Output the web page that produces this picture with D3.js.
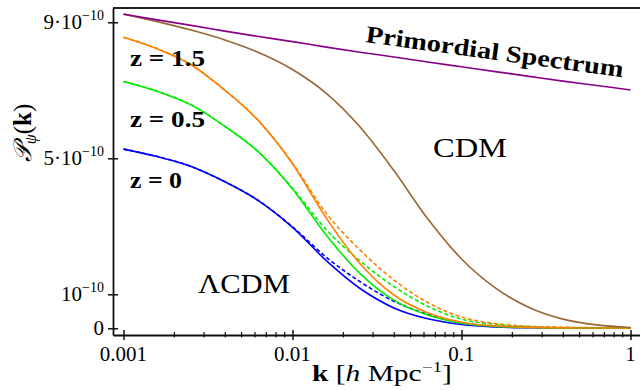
<!DOCTYPE html>
<html><head><meta charset="utf-8">
<script src="https://cdn.jsdelivr.net/npm/d3@7"></script>
<style>body{margin:0;background:#fff} svg{display:block} text{font-family:"Liberation Serif","DejaVu Serif",serif;fill:#000}</style>
</head><body>
<svg id="chart" width="640" height="390"></svg>
<script>
// k in h/Mpc (0.2-decade steps), spectra in units of 1e-10
const kValues      = [0.001, 0.001585, 0.002512, 0.003981, 0.00631, 0.01, 0.01585, 0.02512, 0.03981, 0.0631, 0.1, 0.1585, 0.2512, 0.3981, 0.631, 1];
const primordial   = [9.24, 9.07, 8.91, 8.74, 8.58, 8.43, 8.27, 8.12, 7.98, 7.83, 7.69, 7.55, 7.41, 7.27, 7.14, 7.01];
const cdm          = [9.24, 9.02, 8.77, 8.48, 8.11, 7.61, 6.91, 5.92, 4.64, 3.22, 2.04, 1.19, 0.61, 0.27, 0.10, 0.025];
const lcdmZ15      = [8.56, 8.22, 7.75, 7.00, 6.10, 4.84, 3.24, 1.90, 0.98, 0.46, 0.18, 0.068, 0.026, 0.013, 0.009, 0.005];
const lcdmZ15Dash  = [8.56, 8.22, 7.75, 7.00, 6.10, 4.86, 3.38, 2.30, 1.42, 0.76, 0.33, 0.14, 0.06, 0.03, 0.017, 0.013];
const lcdmZ05      = [7.26, 6.97, 6.57, 5.94, 5.18, 4.10, 2.74, 1.61, 0.83, 0.39, 0.15, 0.058, 0.022, 0.011, 0.007, 0.004];
const lcdmZ05Dash  = [7.26, 6.97, 6.57, 5.94, 5.18, 4.12, 2.90, 1.98, 1.23, 0.65, 0.27, 0.116, 0.051, 0.025, 0.015, 0.011];
const lcdmZ0       = [5.27, 5.05, 4.76, 4.31, 3.75, 2.97, 1.99, 1.17, 0.60, 0.28, 0.11, 0.04, 0.016, 0.008, 0.005, 0.003];
const lcdmZ0Dash   = [5.27, 5.05, 4.76, 4.31, 3.75, 2.985, 2.09, 1.37, 0.795, 0.41, 0.158, 0.063, 0.026, 0.013, 0.008, 0.005];

const xTickValues = [0.001, 0.01, 0.1, 1];
const xTickLabels = ["0.001", "0.01", "0.1", "1"];
const xMinorTicks = [2,3,4,5,6,7,8,9].flatMap(m => [m*0.001, m*0.01, m*0.1]);
const yTickValues = [0, 1, 5, 9];
const yTickBase   = ["0", "10", "5·10", "9·10"];
const yTickSup    = ["", "−10", "−10", "−10"];

const svg = d3.select("#chart");
const x = d3.scaleLog().domain([0.000867, 1.138]).range([113, 640]);
const y = d3.scaleLinear().domain([-0.197, 9.42]).range([335, 8]);

// frame top
svg.append("line").attr("x1", 113).attr("x2", 640).attr("y1", 8).attr("y2", 8)
  .attr("stroke", "#222").attr("stroke-width", 2);

// bottom axis
const gx = svg.append("g").attr("transform", "translate(0,335)")
  .call(d3.axisBottom(x).tickValues(xTickValues).tickSizeInner(0).tickSizeOuter(0).tickFormat(""));
gx.select(".domain").attr("stroke", "#111").attr("stroke-width", 1.8);
gx.selectAll(".tick line").attr("y1", -5).attr("y2", 5).attr("stroke", "#111").attr("stroke-width", 1.5);
gx.selectAll(".minor").data(xMinorTicks).enter().append("line").attr("class", "minor")
  .attr("x1", d => x(d)).attr("x2", d => x(d)).attr("y1", -3).attr("y2", 2.5)
  .attr("stroke", "#111").attr("stroke-width", 1.2);
svg.selectAll(".xlab").data(xTickValues).enter().append("text").attr("class", "xlab")
  .attr("x", d => x(d)).attr("y", 361).attr("text-anchor", "middle").attr("font-size", 21)
  .text((d, i) => xTickLabels[i]);

// left axis
const gy = svg.append("g").attr("transform", "translate(113,0)")
  .call(d3.axisLeft(y).tickValues(yTickValues).tickSizeInner(5).tickSizeOuter(0).tickFormat(""));
gy.select(".domain").attr("stroke", "#111").attr("stroke-width", 1.8);
gy.selectAll(".tick line").attr("x1", 5).attr("x2", -5).attr("stroke", "#111").attr("stroke-width", 1.5);
yTickValues.forEach((v, i) => {
  const t = svg.append("text").attr("x", 104).attr("y", y(v) + 7).attr("text-anchor", "end").attr("font-size", 21);
  t.append("tspan").text(yTickBase[i]);
  if (yTickSup[i]) t.append("tspan").attr("font-size", 14).attr("dy", -9).text(yTickSup[i]);
});

// curves
const mk = vals => kValues.map((k, i) => ({k, v: vals[i]}));
const line = d3.line().x(d => x(d.k)).y(d => y(d.v)).curve(d3.curveMonotoneX);
const series = [
  {vals: lcdmZ0Dash,  color: "#0000ff", dash: "4,2.5"},
  {vals: lcdmZ05Dash, color: "#00ee00", dash: "4,2.5"},
  {vals: lcdmZ15Dash, color: "#ff8000", dash: "4,2.5"},
  {vals: lcdmZ0,  color: "#0000ff"},
  {vals: lcdmZ05, color: "#00ee00"},
  {vals: lcdmZ15, color: "#ff8000"},
  {vals: cdm, color: "#996633"},
  {vals: primordial, color: "#880088"}
];
svg.selectAll(".curve").data(series).enter().append("path").attr("class", "curve")
  .attr("d", d => line(mk(d.vals))).attr("fill", "none")
  .attr("stroke", d => d.color).attr("stroke-width", 1.6)
  .attr("stroke-dasharray", d => d.dash || null);

// annotations: text stretched horizontally to the reference widths
function fitText(sel, tx, ty, width, rot) {
  const w = sel.node().getComputedTextLength();
  const s = width / w;
  sel.attr("transform", `translate(${tx},${ty})` + (rot ? ` rotate(${rot})` : "") + ` scale(${s},1)`);
  return sel;
}
const ann = (txt, size, weight) => svg.append("text").attr("font-size", size).attr("font-weight", weight).text(txt);
fitText(ann("z = 1.5", 24, "bold"), 130, 66, 75);
fitText(ann("z = 0.5", 24, "bold"), 130, 127, 75);
fitText(ann("z = 0", 24, "bold"), 130, 188, 52);
fitText(ann("ΛCDM", 27, "normal"), 198, 293, 92);
fitText(ann("CDM", 27, "normal"), 433, 157, 74);
fitText(ann("Primordial Spectrum", 24, "bold"), 365, 42, 260, 7.8);

// y label
const yl = svg.append("text").attr("transform", "translate(31,133) rotate(-90)")
  .attr("text-anchor", "middle").attr("font-size", 25);
yl.append("tspan").attr("font-family", "DejaVu Serif, DejaVu Sans, serif").attr("font-style", "italic").text("𝒫");
yl.append("tspan").attr("font-size", 16).attr("dy", 5).attr("font-style", "italic").text("ψ");
yl.append("tspan").attr("dy", -5).text("(");
yl.append("tspan").attr("font-weight", "bold").text("k");
yl.append("tspan").text(")");

// x label
const xl = svg.append("text").attr("font-size", 23);
xl.append("tspan").attr("font-weight", "bold").text("k");
xl.append("tspan").text(" [");
xl.append("tspan").attr("font-style", "italic").text("h");
xl.append("tspan").text(" Mpc");
xl.append("tspan").attr("font-size", 15).attr("dy", -9).text("−1");
xl.append("tspan").attr("dy", 9).text("]");
fitText(xl, 312, 381, 140);
</script>
</body></html>
